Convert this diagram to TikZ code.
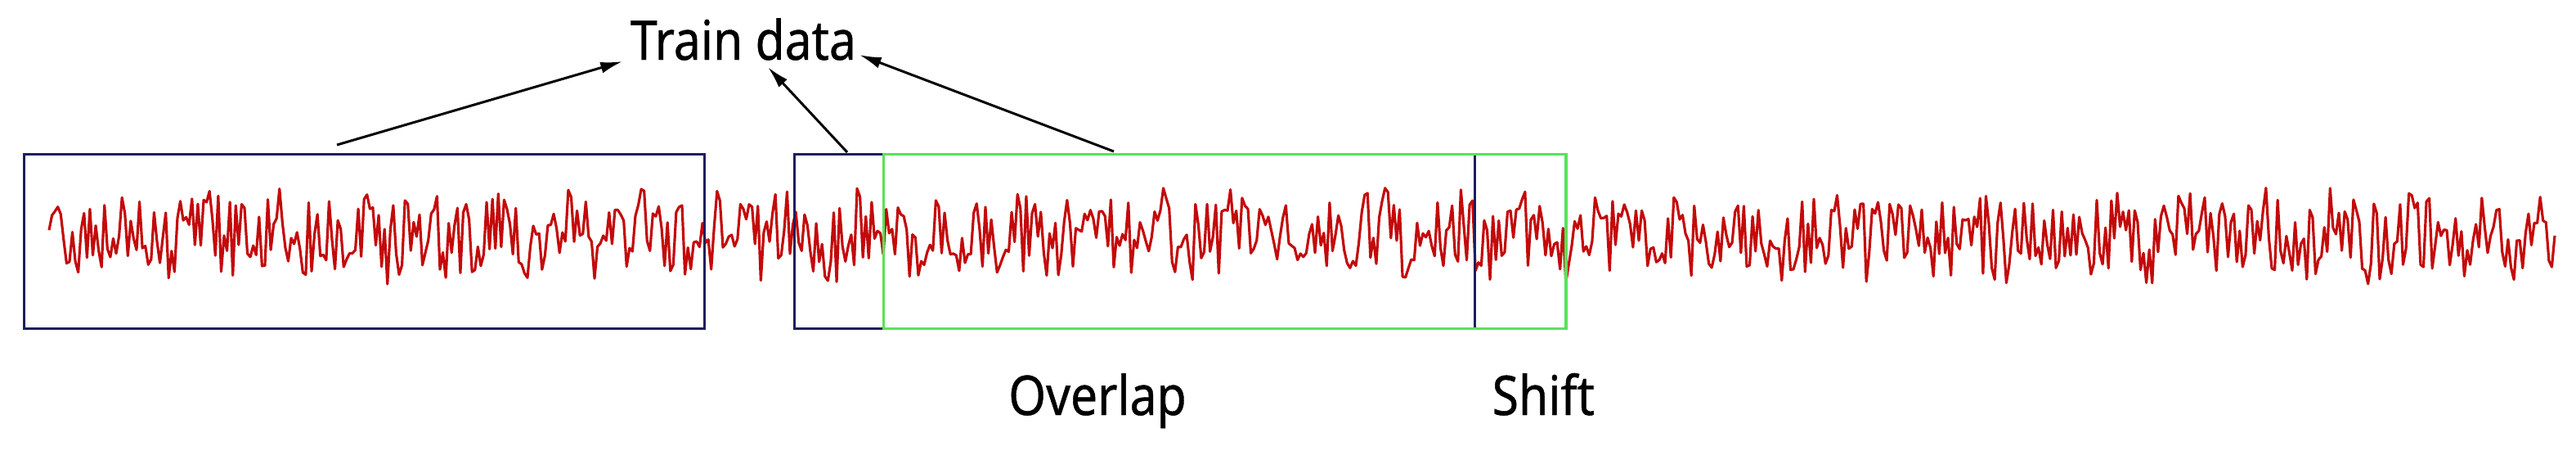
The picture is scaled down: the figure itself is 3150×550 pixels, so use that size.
\documentclass[tikz,border=0pt]{standalone}
\usepackage{fontspec}
\newfontfamily\labfont[FakeStretch=0.88,FakeBold=0.6]{Noto Sans}
\usetikzlibrary{arrows.meta}
\definecolor{boxblue}{RGB}{30,30,95}
\definecolor{boxgreen}{RGB}{90,225,90}
\definecolor{sigred}{RGB}{195,10,10}
\begin{document}
\begin{tikzpicture}[x=0.01cm,y=-0.01cm,
  bluewin/.style={draw=boxblue, line width=0.8pt, minimum height=2.13cm, anchor=north west, inner sep=0pt},
  greenwin/.style={draw=boxgreen, line width=0.9pt, minimum height=2.13cm, anchor=north west, inner sep=0pt},
  lab/.style={font=\labfont\fontsize{19}{22}\selectfont, inner sep=0pt},
  pointer/.style={-{Latex[length=0.27cm,width=0.14cm]}, line width=0.85pt, black}]
\useasboundingbox (0,0) rectangle (3150,550);
\pgfmathsetseed{11}
\draw[sigred, line width=0.9pt, line join=round]
  plot[domain=60:3124, samples=860, variable=\t] (\t, {288 + 50*rand + 10*sin(\t*4)});
\node[bluewin, minimum width=8.32cm] (w1) at (28,187) {};
\node[bluewin, minimum width=8.32cm] (w2) at (970,187) {};
\node[greenwin, minimum width=8.34cm] (w3) at (1079,187) {};
\node[lab, anchor=base] (train) at (909,73) {Train data};
\node[lab, anchor=base] (overlap) at (1342,507) {Overlap};
\node[lab, anchor=base west] (shift) at (1824,507) {Shift};
\coordinate (s1) at (412,177);
\coordinate (s2) at (1036,186);
\coordinate (s3) at (1362,185);
\draw[pointer] (s1) -- ([xshift=-0.09cm,yshift=-0.02cm]train.base west);
\draw[pointer] (s2) -- ([xshift=0.30cm,yshift=-0.09cm]train.base);
\draw[pointer] (s3) -- ([xshift=0.03cm,yshift=0.06cm]train.base east);
\end{tikzpicture}
\end{document}
